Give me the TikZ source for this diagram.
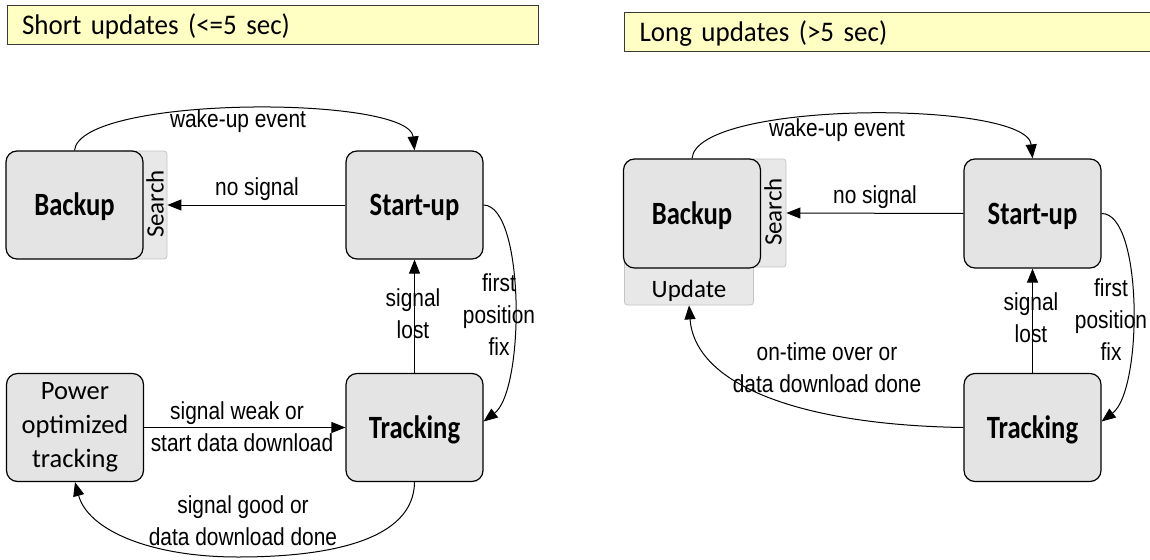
\documentclass[tikz,border=0pt]{standalone}
\usepackage{fontspec}
\setmainfont{Carlito}
\newfontfamily\boxfont[FakeStretch=0.82]{Carlito}
\newfontfamily\titlefont[FakeStretch=0.95]{Carlito}
\newfontfamily\lblfont[FakeStretch=0.85]{Liberation Sans}
\usetikzlibrary{arrows.meta}
\definecolor{boxfill}{HTML}{E4E4E4}
\definecolor{tabfill}{HTML}{E8E8E8}
\definecolor{tabline}{HTML}{C4C4C4}
\definecolor{titlefill}{HTML}{FFFFC4}
\definecolor{titleline}{HTML}{3A3A3A}
\begin{document}
\begin{tikzpicture}[x=1pt,y=-1pt,
  statebox/.style={draw=black, line width=1.2pt, fill=boxfill, rounded corners=11pt,
    minimum width=137pt, minimum height=108pt, inner sep=0pt,
    font=\boxfont\bfseries\fontsize{32.5}{34}\selectfont, text height=21pt, text depth=0pt},
  powerbox/.style={draw=black, line width=1.2pt, fill=boxfill, rounded corners=11pt,
    minimum width=137pt, minimum height=108pt, inner sep=0pt, align=center,
    font=\fontsize{26.5}{34}\selectfont},
  tabbox/.style={draw=tabline, line width=0.8pt, fill=tabfill, rounded corners=3pt, inner sep=0pt},
  tabtext/.style={font=\fontsize{25}{28}\selectfont, inner sep=0pt},
  titlebox/.style={draw=titleline, line width=1.2pt, fill=titlefill, anchor=north west,
    inner xsep=15pt, inner ysep=0pt, align=left, minimum height=39pt,
    font=\titlefont\fontsize{28.4}{30}\selectfont, text height=18.5pt, text depth=0pt},
  conn/.style={draw=black, line width=1pt, -{Triangle[length=14pt,width=11pt]}},
  lbl/.style={font=\lblfont\fontsize{24.6}{32}\selectfont, inner sep=0pt, align=center, anchor=base}
]
\useasboundingbox (0,0) rectangle (1150,559);
\clip (0,0) rectangle (1150,559);

% ---------- left panel ----------
\node[titlebox, text width=501pt] (title1) at (6.5,5) {Short updates (<=5 sec)};

\node[tabbox, minimum width=47pt, minimum height=108pt] (search1) at (143.5,205) {};
\node[statebox] (backup1) at (74.5,205) {Backup};
\node[tabtext, rotate=90] (searchtxt1) at (155,204) {Search};
\node[statebox] (startup1) at (414.5,205) {Start-up};
\node[powerbox] (power1) at (75,427.5) {Power\\optimized\\tracking};
\node[statebox] (tracking1) at (414.5,427.5) {Tracking};

\draw[conn] (backup1.north) .. controls (80,95) and (409,95) .. (startup1.north);
\draw[conn] (startup1.west) -- (search1.east);
\draw[conn] (tracking1.north) -- (startup1.south);
\draw[conn] (startup1.east) .. controls (525,206) and (525,390) .. ([yshift=6pt]tracking1.east);
\draw[conn] (power1.east) -- (tracking1.west);
\draw[conn] (tracking1.south) .. controls (414,540) and (330,557) .. (238,557)
            .. controls (150,557) and (88,530) .. (power1.south);

\node[lbl] (l1wake) at (238,128) {wake-up event};
\node[lbl] (l1nosig) at (257,195) {no signal};
\node[lbl] (l1lost) at (413,338) {signal\\lost};
\node[lbl] (l1fix) at (499,355) {first\\position\\fix};
\node[lbl] (l1weak) at (237,419) {signal weak or};
\node[lbl] (l1start) at (242,451) {start data download};
\node[lbl] (l1good) at (243,545) {signal good or\\data download done};

% ---------- right panel ----------
\node[titlebox, text width=560pt] (title2) at (624,12) {Long updates (>5 sec)};

\node[tabbox, minimum width=46pt, minimum height=108pt] (search2) at (763,213) {};
\node[tabbox, minimum width=129pt, minimum height=55pt, font=\fontsize{25}{28}\selectfont,
      text height=39pt, text depth=0pt] (update2) at (689,277.5) {Update};
\node[statebox, minimum height=109pt] (backup2) at (692,213.5) {Backup};
\node[tabtext, rotate=90] (searchtxt2) at (773,212) {Search};
\node[statebox, minimum height=109pt] (startup2) at (1032.5,213.5) {Start-up};
\node[statebox] (tracking2) at (1032.5,427.5) {Tracking};

\draw[conn] (backup2.north) .. controls (697,100) and (1027,100) .. (startup2.north);
\draw[conn] (startup2.west) -- (search2.east);
\draw[conn] (tracking2.north) -- (startup2.south);
\draw[conn] (startup2.east) .. controls (1143,213) and (1143,390) .. ([yshift=6pt]tracking2.east);
\draw[conn] (tracking2.west) .. controls (800,425) and (695,385) .. (update2.south);

\node[lbl] (l2wake) at (837,136) {wake-up event};
\node[lbl] (l2nosig) at (875,203) {no signal};
\node[lbl] (l2lost) at (1031,342) {signal\\lost};
\node[lbl] (l2fix) at (1111,360) {first\\position\\fix};
\node[lbl] (l2ontime) at (827,392) {on-time over or\\data download done};
\end{tikzpicture}
\end{document}
